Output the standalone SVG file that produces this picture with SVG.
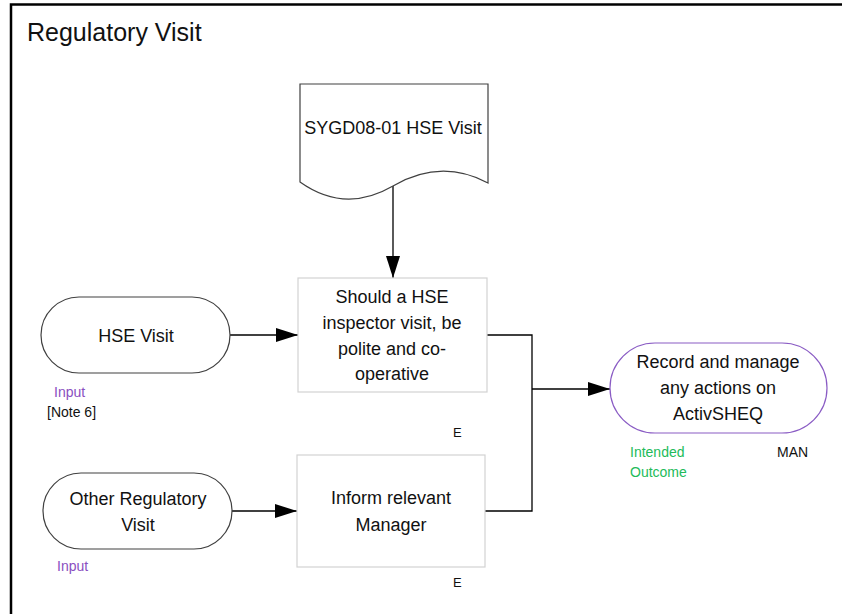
<svg xmlns="http://www.w3.org/2000/svg" width="842" height="614" viewBox="0 0 842 614">
<defs>
<style>
text{font-family:"Liberation Sans",Arial,sans-serif;fill:#111}
.t{font-size:18px;text-anchor:middle}
.s{font-size:14px}
.term{fill:#fff;stroke:#404040;stroke-width:1.2}
.box{fill:#fff;stroke:#d2d2d2;stroke-width:1.2}
.line{fill:none;stroke:#000;stroke-width:1.3}
.purple{fill:#8a4fbf}
.green{fill:#22bb5a}
</style>
<marker id="ah" markerUnits="userSpaceOnUse" markerWidth="22" markerHeight="14" refX="22" refY="7" orient="auto" viewBox="0 0 22 14">
<path d="M0,0 L22,7 L0,14 z" fill="#000"/>
</marker>
</defs>
<rect width="842" height="614" fill="#fff"/>
<path d="M11,614 V4.5 H842" fill="none" stroke="#000" stroke-width="2.5"/>
<text x="27" y="41" style="font-size:25px">Regulatory Visit</text>

<g id="connectors">
<path class="line" d="M393,186 V278" marker-end="url(#ah)"/>
<path class="line" d="M230,335 H298" marker-end="url(#ah)"/>
<path class="line" d="M232,511 H297" marker-end="url(#ah)"/>
<path class="line" d="M487,335 H532 V511 H485" stroke="#333"/>
<path class="line" d="M532,389 H610" marker-end="url(#ah)"/>
</g>

<g id="doc">
<path d="M300,84 H488 V183 Q441,158 393,186 Q345,214 300,182 Z" fill="#fff" stroke="#404040" stroke-width="1.2"/>
<text class="t" x="393" y="134">SYGD08-01 HSE Visit</text>
</g>

<g id="hse-visit">
<rect class="term" x="41" y="297" width="189" height="76" rx="38"/>
<text class="t" x="136" y="342">HSE Visit</text>
<text class="s purple" x="54" y="397">Input</text>
<text class="s" x="47" y="417">[Note 6]</text>
</g>

<g id="polite">
<rect class="box" x="298" y="278" width="189" height="114"/>
<text class="t" x="392" y="303">Should a HSE</text>
<text class="t" x="392" y="329">inspector visit, be</text>
<text class="t" x="392" y="355">polite and co-</text>
<text class="t" x="392" y="380">operative</text>
<text class="s" x="453" y="437" style="font-size:13px">E</text>
</g>

<g id="other-visit">
<rect class="term" x="43" y="473" width="189" height="76" rx="38"/>
<text class="t" x="138" y="505">Other Regulatory</text>
<text class="t" x="138" y="531">Visit</text>
<text class="s purple" x="57" y="571">Input</text>
</g>

<g id="inform">
<rect class="box" x="297" y="455" width="188" height="112"/>
<text class="t" x="391" y="504">Inform relevant</text>
<text class="t" x="391" y="531">Manager</text>
<text class="s" x="453" y="587" style="font-size:13px">E</text>
</g>

<g id="record">
<rect x="610" y="343" width="217" height="90" rx="45" fill="#fff" stroke="#8a5cc4" stroke-width="1.2"/>
<text class="t" x="718" y="368">Record and manage</text>
<text class="t" x="718" y="394">any actions on</text>
<text class="t" x="718" y="420">ActivSHEQ</text>
<text class="s green" x="630" y="457">Intended</text>
<text class="s green" x="630" y="477">Outcome</text>
<text class="s" x="777" y="457">MAN</text>
</g>
</svg>
